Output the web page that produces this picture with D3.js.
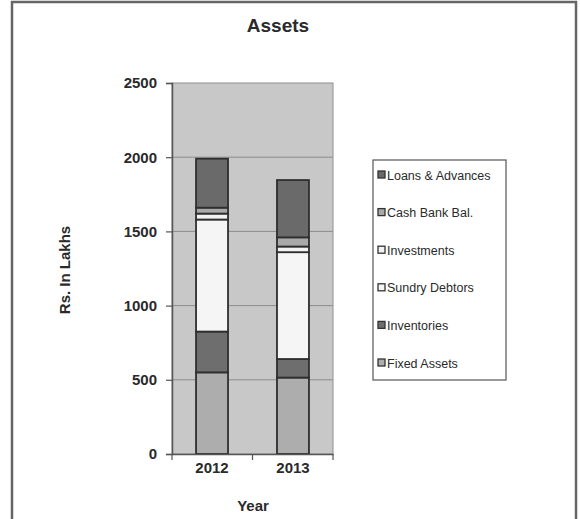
<!DOCTYPE html>
<html><head><meta charset="utf-8">
<script src="https://cdn.jsdelivr.net/npm/d3@7"></script>
<style>body{margin:0;background:#fff}svg{display:block}text{font-family:"Liberation Sans",Arial,sans-serif}</style>
</head><body><svg id="c" width="580" height="519"></svg>
<script>
const years = ["2012", "2013"];
const seriesNames = ["Fixed Assets", "Inventories", "Sundry Debtors", "Investments", "Cash Bank Bal.", "Loans & Advances"];
const fixedAssets = [550, 515];
const inventories = [275, 125];
const sundryDebtors = [755, 720];
const investments = [40, 38];
const cashBank = [40, 62];
const loansAdvances = [330, 386];
const yTicks = [0, 500, 1000, 1500, 2000, 2500];
const colors = ["#adadad", "#6e6e6e", "#f5f5f5", "#f2f2f2", "#a9a9a9", "#6a6a6a"];

const seriesVals = [fixedAssets, inventories, sundryDebtors, investments, cashBank, loansAdvances];
const rows = years.map((y, i) => {
  const r = {year: y};
  seriesNames.forEach((s, k) => r[s] = seriesVals[k][i]);
  return r;
});
const stack = d3.stack().keys(seriesNames)(rows);

const svg = d3.select("#c");
svg.append("rect").attr("x", 12).attr("y", 2).attr("width", 564).attr("height", 530)
  .attr("fill", "#fff").attr("stroke", "#666").attr("stroke-width", 2.5);

const L = 172, R = 333, T = 83, B = 454;
const x = d3.scaleBand().domain(years).range([L, R]).paddingInner(0.605).paddingOuter(0.297);
const y = d3.scaleLinear().domain([0, 2500]).range([B, T]);

svg.append("rect").attr("x", L).attr("y", T).attr("width", R - L).attr("height", B - T)
  .attr("fill", "#c8c8c8").attr("stroke", "#909090").attr("stroke-width", 1);

svg.append("g").selectAll("line").data(yTicks.filter(d => d > 0 && d < 2500)).join("line")
  .attr("x1", L).attr("x2", R).attr("y1", d => y(d)).attr("y2", d => y(d))
  .attr("stroke", "#8c8c8c").attr("stroke-width", 1);

const g = svg.append("g");
stack.forEach((layer, k) => {
  g.selectAll(null).data(layer).join("rect")
    .attr("x", d => x(d.data.year))
    .attr("width", x.bandwidth())
    .attr("y", d => y(d[1]))
    .attr("height", d => y(d[0]) - y(d[1]))
    .attr("fill", colors[k])
    .attr("stroke", "#2e2e2e").attr("stroke-width", 1.8);
});

const ya = svg.append("g").attr("transform", `translate(${L},0)`)
  .call(d3.axisLeft(y).tickValues(yTicks).tickSize(6).tickPadding(9).tickFormat(d3.format("d")));
ya.select(".domain").attr("stroke", "#555").attr("stroke-width", 1.5);
ya.selectAll(".tick line").attr("stroke", "#555").attr("stroke-width", 1.2);
ya.selectAll("text").attr("font-size", 15).attr("font-weight", "bold").attr("fill", "#2a2a2a")
  .attr("font-family", '"Liberation Sans",Arial,sans-serif');

const xa = svg.append("g").attr("transform", `translate(0,${B})`)
  .call(d3.axisBottom(x).tickSize(0).tickPadding(8));
xa.select(".domain").attr("stroke", "#555").attr("stroke-width", 1.5);
xa.selectAll("text").attr("font-size", 15).attr("font-weight", "bold").attr("fill", "#2a2a2a")
  .attr("font-family", '"Liberation Sans",Arial,sans-serif');
const seps = [L, (x(years[0]) + x.bandwidth() + x(years[1])) / 2, R];
svg.append("g").selectAll("line").data(seps).join("line")
  .attr("x1", d => d).attr("x2", d => d).attr("y1", B).attr("y2", B + 6)
  .attr("stroke", "#555").attr("stroke-width", 1.2);

svg.append("text").attr("x", 278).attr("y", 32).attr("text-anchor", "middle")
  .attr("font-size", 19).attr("font-weight", "bold").attr("fill", "#2a2a2a").text("Assets");
svg.append("text").attr("x", 253).attr("y", 511).attr("text-anchor", "middle")
  .attr("font-size", 15).attr("font-weight", "bold").attr("fill", "#2a2a2a").text("Year");
svg.append("text").attr("transform", "translate(70,270) rotate(-90)").attr("text-anchor", "middle")
  .attr("font-size", 15).attr("font-weight", "bold").attr("fill", "#2a2a2a").text("Rs. In Lakhs");

svg.append("rect").attr("x", 373).attr("y", 160).attr("width", 133).attr("height", 220)
  .attr("fill", "#fff").attr("stroke", "#555").attr("stroke-width", 1.2);
const legendOrder = seriesNames.slice().reverse();
const lg = svg.append("g").selectAll("g").data(legendOrder).join("g")
  .attr("transform", (d, i) => `translate(378,${175 + i * 37.6})`);
lg.append("rect").attr("x", 0).attr("y", -4).attr("width", 7).attr("height", 7)
  .attr("fill", d => colors[seriesNames.indexOf(d)]).attr("stroke", "#333").attr("stroke-width", 1.3);
lg.append("text").attr("x", 9).attr("y", 4.5).attr("font-size", 12.5).attr("fill", "#2a2a2a").text(d => d);
</script></body></html>
